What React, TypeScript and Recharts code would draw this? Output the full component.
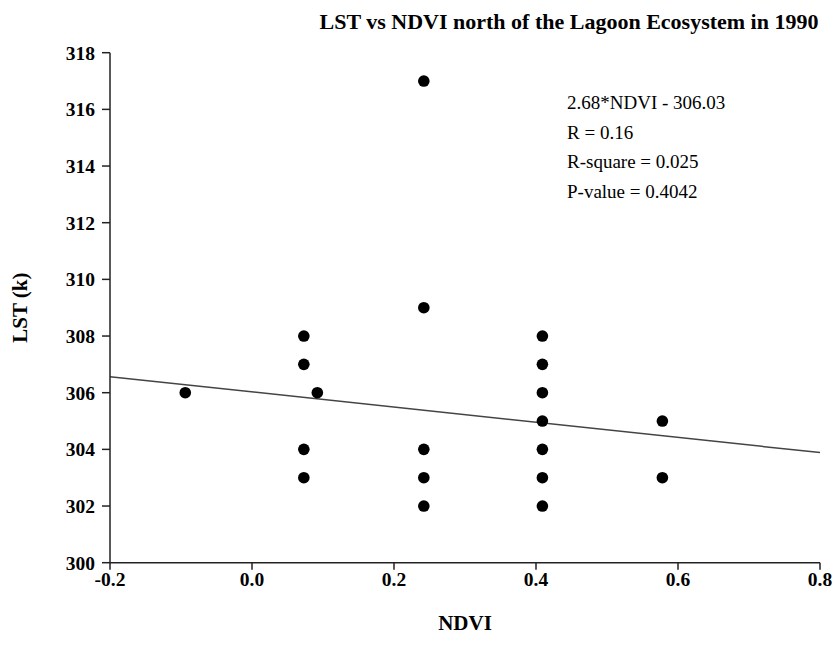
import {
  ScatterChart,
  Scatter,
  XAxis,
  YAxis,
  ReferenceLine,
} from "recharts";

// NDVI / LST pairs
const ndvi = [
  -0.094, 0.073, 0.073, 0.073, 0.073, 0.092,
  0.242, 0.242, 0.242, 0.242, 0.242,
  0.409, 0.409, 0.409, 0.409, 0.409, 0.409, 0.409,
  0.578, 0.578,
];
const lst = [
  306, 308, 307, 304, 303, 306,
  317, 309, 304, 303, 302,
  308, 307, 306, 305, 304, 303, 302,
  305, 303,
];

const xTicks = [-0.2, 0, 0.2, 0.4, 0.6, 0.8];
const yTicks = [300, 302, 304, 306, 308, 310, 312, 314, 316, 318];

// fit shown on the chart: LST = 306.03 - 2.68 * NDVI
const slope = -2.68;
const intercept = 306.03;

const statLines = [
  "2.68*NDVI - 306.03",
  "R = 0.16",
  "R-square = 0.025",
  "P-value = 0.4042",
];

const points = ndvi.map((x, i) => ({ x, y: lst[i] }));

const serif = "'Liberation Serif', 'Times New Roman', serif";
const axisColor = "#222";

const Dot = (props: any) => (
  <circle cx={props.cx} cy={props.cy} r={5.8} fill="#000" />
);

export default function App() {
  const x0 = xTicks[0];
  const x1 = xTicks[xTicks.length - 1];
  return (
    <div style={{ position: "absolute", left: 0, top: 0, background: "#fff" }}>
      <ScatterChart
        width={836}
        height={657}
        margin={{ top: 52.7, right: 16, bottom: 64.3, left: 50 }}
      >
        <text
          x={569}
          y={29}
          textAnchor="middle"
          fontFamily={serif}
          fontWeight="bold"
          fontSize={22}
          fill="#000"
        >
          LST vs NDVI north of the Lagoon Ecosystem in 1990
        </text>
        <XAxis
          type="number"
          dataKey="x"
          domain={[x0, x1]}
          ticks={xTicks}
          tickFormatter={(v: number) => v.toFixed(1)}
          height={30}
          tickSize={7}
          tickMargin={2}
          stroke={axisColor}
          strokeWidth={1.5}
          tick={{ fill: "#000", fontFamily: serif, fontWeight: "bold", fontSize: 19.5 }}
          label={{
            value: "NDVI",
            position: "insideBottom",
            offset: -37,
            fill: "#000",
            fontFamily: serif,
            fontWeight: "bold",
            fontSize: 21,
          }}
        />
        <YAxis
          type="number"
          dataKey="y"
          domain={[300, 318]}
          ticks={yTicks}
          width={60}
          tickSize={8}
          tickMargin={7}
          stroke={axisColor}
          strokeWidth={1.5}
          tick={{ fill: "#000", fontFamily: serif, fontWeight: "bold", fontSize: 19.5 }}
          label={{
            value: "LST (k)",
            angle: -90,
            position: "insideLeft",
            offset: -30,
            style: { textAnchor: "middle" },
            fill: "#000",
            fontFamily: serif,
            fontWeight: "bold",
            fontSize: 21,
          }}
        />
        <ReferenceLine
          segment={[
            { x: x0, y: intercept + slope * x0 },
            { x: x1, y: intercept + slope * x1 },
          ]}
          stroke="#444"
          strokeWidth={1.5}
          ifOverflow="visible"
        />
        <Scatter data={points} shape={Dot} isAnimationActive={false} />
        {statLines.map((s, i) => (
          <text
            key={s}
            x={567}
            y={109 + i * 29.5}
            fontFamily={serif}
            fontSize={19}
            fill="#000"
          >
            {s}
          </text>
        ))}
      </ScatterChart>
    </div>
  );
}
